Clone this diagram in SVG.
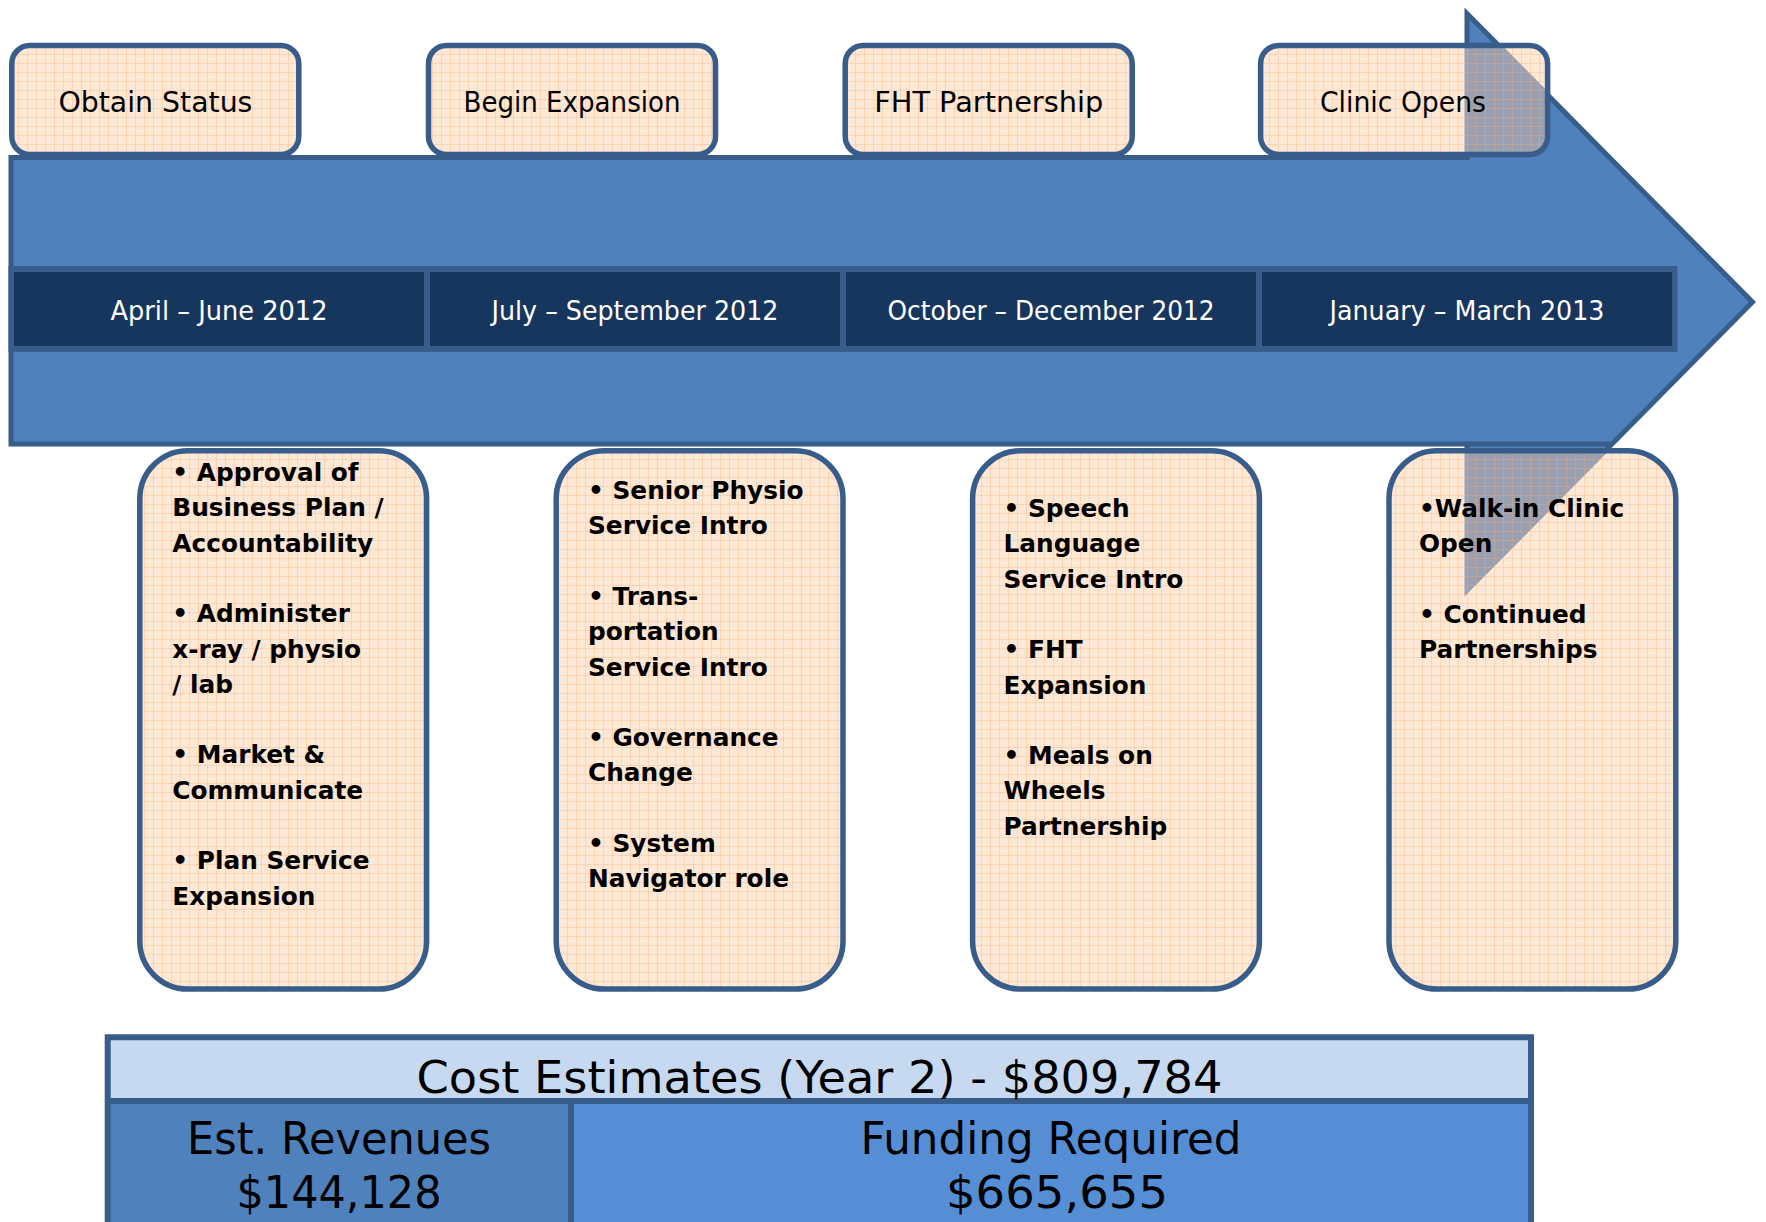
<svg xmlns="http://www.w3.org/2000/svg" xmlns:xlink="http://www.w3.org/1999/xlink" width="1766" height="1222" viewBox="0 0 1766 1222">
<style>
.lbl{font-family:"DejaVu Sans","Liberation Sans",sans-serif;font-size:28px;fill:#000;text-anchor:middle}
.date{font-family:"DejaVu Sans","Liberation Sans",sans-serif;font-size:27px;fill:#fff;text-anchor:middle}
.item{font-family:"DejaVu Sans","Liberation Sans",sans-serif;font-size:24.8px;font-weight:bold;fill:#000}
.big{font-family:"DejaVu Sans","Liberation Sans",sans-serif;font-size:44px;fill:#000;text-anchor:middle}
.box{fill:url(#grid);stroke:#385d8a;stroke-width:5.5}
.under{fill:#fff}
.arrow{fill:#4f81bd;stroke:#385d8a;stroke-width:5;stroke-linejoin:miter;stroke-miterlimit:10}
.arrowIn{fill:#4f81bd;stroke:#4f81bd;stroke-width:5;stroke-miterlimit:10}
.cell{fill:#17365d}
</style>
<defs>
<pattern id="grid" width="9" height="9" patternUnits="userSpaceOnUse">
<rect width="9" height="9" fill="#fbc7a0" fill-opacity="0.44"/>
<path d="M0 0.5H9M0.5 0V9" stroke="#f6ae78" stroke-opacity="0.32" stroke-width="1"/>
</pattern>
<path id="arrowShape" d="M11 157.5H1467V13.5L1752.5 302L1467 590.5V444H11Z"/>
<clipPath id="clipTop4"><rect x="1260.6" y="45.5" width="287" height="109" rx="18"/></clipPath>
<clipPath id="clipBot4"><rect x="1389" y="450.7" width="286.8" height="538.3" rx="48"/></clipPath>
</defs>

<g id="timeline-arrow">
<use xlink:href="#arrowShape" class="arrow"/>
<path d="M1465 444H1612" fill="none" stroke="#385d8a" stroke-width="5"/>
</g>

<g id="period-band">
<rect x="8.5" y="266" width="1669" height="86" fill="#385d8a"/>
<g id="period-1"><rect class="cell" x="14" y="272" width="410" height="74"/><text class="date" x="219" y="320" textLength="217" lengthAdjust="spacingAndGlyphs">April – June 2012</text></g>
<g id="period-2"><rect class="cell" x="430" y="272" width="410" height="74"/><text class="date" x="635" y="320" textLength="287" lengthAdjust="spacingAndGlyphs">July – September 2012</text></g>
<g id="period-3"><rect class="cell" x="846" y="272" width="410" height="74"/><text class="date" x="1051" y="320" textLength="327" lengthAdjust="spacingAndGlyphs">October – December 2012</text></g>
<g id="period-4"><rect class="cell" x="1262" y="272" width="410" height="74"/><text class="date" x="1467" y="320" textLength="275" lengthAdjust="spacingAndGlyphs">January – March 2013</text></g>
</g>

<g id="milestone-1"><rect class="box" x="11.8" y="45.5" width="287" height="109" rx="18"/><text class="lbl" x="155.4" y="112" textLength="194" lengthAdjust="spacingAndGlyphs">Obtain Status</text></g>
<g id="milestone-2"><rect class="box" x="428.5" y="45.5" width="287" height="109" rx="18"/><text class="lbl" x="572" y="112" textLength="217" lengthAdjust="spacingAndGlyphs">Begin Expansion</text></g>
<g id="milestone-3"><rect class="box" x="845.2" y="45.5" width="287" height="109" rx="18"/><text class="lbl" x="988.7" y="112" textLength="229" lengthAdjust="spacingAndGlyphs">FHT Partnership</text></g>
<g id="milestone-4"><rect class="under" x="1260.6" y="45.5" width="287" height="109" rx="18"/><use xlink:href="#arrowShape" class="arrowIn" clip-path="url(#clipTop4)"/><rect class="box" x="1260.6" y="45.5" width="287" height="109" rx="18"/><text class="lbl" x="1403" y="112" textLength="166" lengthAdjust="spacingAndGlyphs">Clinic Opens</text></g>

<g id="tasks-1"><rect class="box" x="139.8" y="450.7" width="286.8" height="538.3" rx="48"/>
<text class="item" x="172.3" y="481">• Approval of</text>
<text class="item" x="172.3" y="516.3">Business Plan /</text>
<text class="item" x="172.3" y="551.6">Accountability</text>
<text class="item" x="172.3" y="622.2">• Administer</text>
<text class="item" x="172.3" y="657.5">x-ray / physio</text>
<text class="item" x="172.3" y="692.8">/ lab</text>
<text class="item" x="172.3" y="763.4">• Market &amp;</text>
<text class="item" x="172.3" y="798.7">Communicate</text>
<text class="item" x="172.3" y="869.3">• Plan Service</text>
<text class="item" x="172.3" y="904.6">Expansion</text>
</g>

<g id="tasks-2"><rect class="box" x="556.2" y="450.7" width="286.8" height="538.3" rx="48"/>
<text class="item" x="588" y="499">• Senior Physio</text>
<text class="item" x="588" y="534.3">Service Intro</text>
<text class="item" x="588" y="604.9">• Trans-</text>
<text class="item" x="588" y="640.2">portation</text>
<text class="item" x="588" y="675.5">Service Intro</text>
<text class="item" x="588" y="746.1">• Governance</text>
<text class="item" x="588" y="781.4">Change</text>
<text class="item" x="588" y="852">• System</text>
<text class="item" x="588" y="887.3">Navigator role</text>
</g>

<g id="tasks-3"><rect class="box" x="972.6" y="450.7" width="286.8" height="538.3" rx="48"/>
<text class="item" x="1003.5" y="517">• Speech</text>
<text class="item" x="1003.5" y="552.3">Language</text>
<text class="item" x="1003.5" y="587.6">Service Intro</text>
<text class="item" x="1003.5" y="658.2">• FHT</text>
<text class="item" x="1003.5" y="693.5">Expansion</text>
<text class="item" x="1003.5" y="764.1">• Meals on</text>
<text class="item" x="1003.5" y="799.4">Wheels</text>
<text class="item" x="1003.5" y="834.7">Partnership</text>
</g>

<g id="tasks-4"><rect class="under" x="1389" y="450.7" width="286.8" height="538.3" rx="48"/><use xlink:href="#arrowShape" class="arrowIn" clip-path="url(#clipBot4)"/><rect class="box" x="1389" y="450.7" width="286.8" height="538.3" rx="48"/>
<text class="item" x="1419" y="517">•Walk-in Clinic</text>
<text class="item" x="1419" y="552.3">Open</text>
<text class="item" x="1419" y="622.9">• Continued</text>
<text class="item" x="1419" y="658.2">Partnerships</text>
</g>

<g id="cost-table">
<rect x="107.7" y="1037.3" width="1423.3" height="64" fill="#c6d9f1"/>
<rect x="107.7" y="1101" width="463.3" height="140" fill="#4f81bd"/>
<rect x="571" y="1101" width="960" height="140" fill="#558ed5"/>
<path d="M107.7 1245V1037.3H1531V1245M107.7 1101H1531M571 1101V1245" fill="none" stroke="#385d8a" stroke-width="6"/>
<text class="big" x="819.5" y="1093" font-size="46" textLength="806" lengthAdjust="spacingAndGlyphs">Cost Estimates (Year 2) - $809,784</text>
<text class="big" x="339" y="1153.5" textLength="304" lengthAdjust="spacingAndGlyphs">Est. Revenues</text>
<text class="big" x="339" y="1208" textLength="205" lengthAdjust="spacingAndGlyphs">$144,128</text>
<text class="big" x="1051" y="1153.5" textLength="381" lengthAdjust="spacingAndGlyphs">Funding Required</text>
<text class="big" x="1057" y="1208" textLength="222" lengthAdjust="spacingAndGlyphs">$665,655</text>
</g>
</svg>
